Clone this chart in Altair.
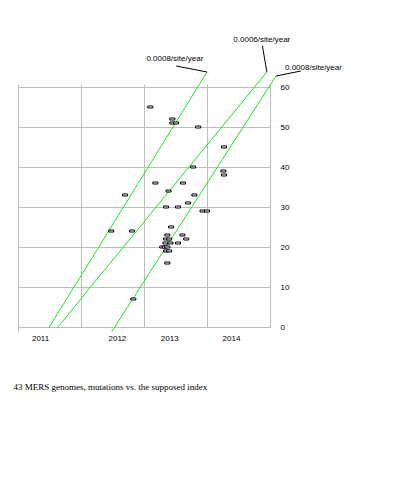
import altair as alt
import pandas as pd

# ---- data (x: years from the first grid line, y: mutations vs. index) ----
pt_t = [2.10, 2.45, 2.45, 2.51, 2.86, 3.27, 2.78, 3.26, 3.27, 2.18, 2.62, 1.70,
        2.39, 2.80, 2.70, 2.35, 2.54, 2.93, 3.00, 2.43, 1.48, 1.81, 2.37, 2.61,
        2.35, 2.40, 2.67, 2.34, 2.42, 2.54, 2.29, 2.33, 2.37, 2.35, 2.40, 2.37, 1.83]
pt_mut = [55, 52, 51, 51, 50, 45, 40, 39, 38, 36, 36, 33,
          34, 33, 31, 30, 30, 29, 29, 25, 24, 24, 23, 23,
          22, 22, 22, 21, 21, 21, 20, 20, 20, 19, 19, 16, 7]

rate_labels = ["0.0008/site/year", "0.0006/site/year", "0.0008/site/year"]
line_t0 = [0.49, 0.62, 1.487]
line_m0 = [-0.17, -0.25, -1.17]
line_t1 = [3.00, 3.95, 4.095]
line_m1 = [63.75, 63.75, 62.75]
leader_t = [2.51, 3.88, 4.49]
leader_m = [65.25, 70.25, 64.0]
label_t = [2.49, 3.87, 4.69]
label_m = [67.0, 71.75, 64.8]

grid_t = [0, 1, 2, 3, 4]
year_labels = ["2011", "2012", "2013", "2014"]
year_label_t = [0.35, 1.57, 2.40, 3.38]
y_ticks = [0, 10, 20, 30, 40, 50, 60]

title_text = "43 MERS genomes, mutations vs. the supposed index"

points = pd.DataFrame({"t": pt_t, "mutations": pt_mut})
lines = pd.DataFrame({"label": rate_labels, "t0": line_t0, "m0": line_m0,
                      "t1": line_t1, "m1": line_m1,
                      "lt": leader_t, "lm": leader_m,
                      "xt": label_t, "xm": label_m})

GRID = "#bdbdbd"
xscale = alt.Scale(domain=[0, 4], nice=False, zero=False)
yscale = alt.Scale(domain=[0, 60], nice=False)

y_axis = alt.Axis(orient="right", values=y_ticks, grid=True, gridColor=GRID,
                  ticks=False, domain=False, labelPadding=10, labelFontSize=8,
                  labelFont="Liberation Sans", labelColor="black", title=None)

top_axis = alt.Axis(orient="top", values=grid_t, grid=True, gridColor=GRID,
                    ticks=True, tickSize=3, tickColor=GRID, domain=True,
                    domainColor=GRID, labels=False, title=None)

# label by grid interval the tick falls in
expr = "'" + year_labels[-1] + "'"
for g, s in reversed(list(zip(grid_t[1:], year_labels[:-1]))):
    expr = "datum.value < %s ? '%s' : (%s)" % (g, s, expr)
expr = "datum.value === 0 ? '' : (" + expr + ")"

bottom_axis = alt.Axis(orient="bottom", values=[0] + year_label_t, grid=False,
                       ticks=True, tickSize=5,
                       tickColor={"condition": {"test": "datum.value === 0", "value": GRID},
                                  "value": "transparent"},
                       domain=False, labelExpr=expr, labelPadding=2,
                       labelFontSize=8, labelFont="Liberation Sans",
                       labelColor="black", title=None)

pts = alt.Chart(points).mark_point(
    shape="M-1,-0.4L1,-0.4L1,0.4L-1,0.4Z", size=25, filled=True,
    fill="white", stroke="black", strokeWidth=1, opacity=1
).encode(
    x=alt.X("t:Q", scale=xscale, axis=top_axis),
    y=alt.Y("mutations:Q", scale=yscale, axis=y_axis),
)

rate_lines = alt.Chart(lines).mark_rule(color="#11ee11", strokeWidth=1).encode(
    x=alt.X("t0:Q", scale=xscale, axis=None),
    y=alt.Y("m0:Q", scale=yscale, axis=y_axis),
    x2="t1:Q", y2="m1:Q",
)

leaders = alt.Chart(lines).mark_rule(color="black", strokeWidth=1).encode(
    x=alt.X("t1:Q", scale=xscale, axis=None),
    y=alt.Y("m1:Q", scale=yscale, axis=y_axis),
    x2="lt:Q", y2="lm:Q",
)

labels = alt.Chart(lines).mark_text(
    font="Liberation Sans", fontSize=8, color="black", align="center", baseline="middle"
).encode(
    x=alt.X("xt:Q", scale=xscale, axis=bottom_axis),
    y=alt.Y("xm:Q", scale=yscale, axis=y_axis),
    text="label:N",
)

chart = alt.layer(rate_lines, leaders, pts, labels).resolve_axis(
    x="independent"
).properties(
    width=252, height=240,
    autosize=alt.AutoSizeParams(type="none"),
    padding={"left": 10, "top": 79, "right": 120, "bottom": 100},
    title=alt.TitleParams(title_text, orient="bottom", anchor="start",
                          font="Liberation Serif", fontSize=9, fontWeight="normal",
                          color="black", offset=41, dx=-4),
).configure_view(stroke=None).configure(background="white")

chart.save("out.html", embed_options={"renderer": "svg", "actions": False})
